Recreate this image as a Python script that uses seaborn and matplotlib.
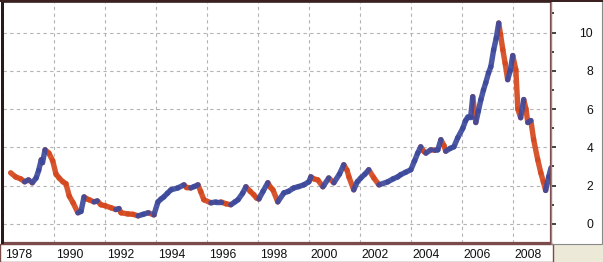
import numpy as np
import pandas as pd
import matplotlib
matplotlib.use("Agg")
import matplotlib.pyplot as plt
import matplotlib.transforms as mtransforms
from matplotlib.patches import Rectangle
import seaborn as sns

# ---- data ----
years = [1988.3, 1988.5, 1988.7, 1988.85, 1989.0, 1989.15, 1989.3, 1989.4, 1989.5, 1989.55,
         1989.65, 1989.8, 1989.95, 1990.08, 1990.2, 1990.35, 1990.47, 1990.6, 1990.75, 1990.94,
         1991.06, 1991.18, 1991.3, 1991.4, 1991.57, 1991.7, 1991.84, 1992.0, 1992.24, 1992.43,
         1992.55, 1992.63, 1992.9, 1993.1, 1993.3, 1993.5, 1993.7, 1993.92, 1994.08, 1994.2,
         1994.31, 1994.45, 1994.59, 1994.86, 1995.1, 1995.2, 1995.37, 1995.5, 1995.65, 1995.76,
         1995.88, 1996.16, 1996.35, 1996.55, 1996.75, 1996.94, 1997.1, 1997.22, 1997.4, 1997.53,
         1997.7, 1997.84, 1997.95, 1998.04, 1998.2, 1998.39, 1998.5, 1998.59, 1998.78, 1999.02,
         1999.2, 1999.41, 1999.6, 1999.8, 2000.0, 2000.08, 2000.2, 2000.35, 2000.55, 2000.78,
         2000.98, 2001.2, 2001.37, 2001.5, 2001.57, 2001.76, 2001.9, 2002.04, 2002.2, 2002.35,
         2002.55, 2002.75, 2003.1, 2003.3, 2003.49, 2003.6, 2003.8, 2004.0, 2004.15, 2004.27,
         2004.39, 2004.5, 2004.59, 2004.78, 2004.95, 2005.06, 2005.18, 2005.3, 2005.37, 2005.55,
         2005.69, 2005.84, 2006.04, 2006.15, 2006.24, 2006.35, 2006.43, 2006.55, 2006.65, 2006.75,
         2006.85, 2006.94, 2007.05, 2007.14, 2007.25, 2007.35, 2007.45, 2007.52, 2007.61, 2007.7,
         2007.8, 2007.9, 2008.0, 2008.12, 2008.2, 2008.31, 2008.43, 2008.52, 2008.59, 2008.71,
         2008.82, 2008.98, 2009.1, 2009.2, 2009.29, 2009.41, 2009.5]
values = [2.67, 2.45, 2.35, 2.2, 2.3, 2.15, 2.4, 2.8, 3.35, 3.2,
          3.87, 3.7, 3.3, 2.6, 2.4, 2.2, 2.1, 1.45, 1.1, 0.58,
          0.65, 1.41, 1.3, 1.25, 1.15, 1.2, 1.0, 0.95, 0.84, 0.75,
          0.8, 0.58, 0.52, 0.5, 0.42, 0.5, 0.58, 0.47, 1.15, 1.3,
          1.41, 1.6, 1.78, 1.88, 2.04, 1.9, 1.88, 1.95, 2.04, 1.68,
          1.26, 1.1, 1.15, 1.15, 1.05, 1.0, 1.15, 1.26, 1.6, 1.94,
          1.7, 1.52, 1.35, 1.3, 1.7, 2.15, 1.9, 1.78, 1.15, 1.62,
          1.7, 1.88, 1.95, 2.04, 2.2, 2.46, 2.35, 2.3, 1.94, 2.4,
          2.15, 2.6, 3.09, 2.8, 2.46, 1.78, 2.2, 2.4, 2.6, 2.83,
          2.4, 2.04, 2.2, 2.35, 2.46, 2.57, 2.7, 2.83, 3.3, 3.7,
          4.03, 3.8, 3.7, 3.87, 3.85, 3.87, 4.4, 4.1, 3.8, 3.95,
          4.03, 4.5, 5.0, 5.4, 5.6, 5.6, 6.65, 5.3, 5.9, 6.5,
          7.0, 7.38, 7.9, 8.22, 9.1, 9.7, 10.5, 9.9, 9.1, 8.4,
          7.54, 8.0, 8.8, 8.06, 6.0, 5.55, 6.5, 6.0, 5.3, 5.4,
          4.4, 3.35, 2.67, 2.2, 1.75, 2.46, 2.93]

x_tick_pos = [1988, 1990, 1992, 1994, 1996, 1998, 2000, 2002, 2004, 2006, 2008]
x_tick_labels = ["1978", "1990", "1992", "1994", "1996", "1998", "2000",
                 "2002", "2004", "2006", "2008"]
y_ticks = [0, 2, 4, 6, 8, 10]
y_tick_labels = ["0", "2", "4", "6", "8", "10"]

# ---- build segment table (colour by direction) ----
rows = []
for i in range(len(values) - 1):
    d = "up" if values[i + 1] >= values[i] else "down"
    rows.append({"year": years[i], "value": values[i], "seg": i, "dir": d})
    rows.append({"year": years[i + 1], "value": values[i + 1], "seg": i, "dir": d})
df = pd.DataFrame(rows)

sns.set_style("white")
plt.rcParams["font.family"] = ["Liberation Sans", "DejaVu Sans"]

W, H = 603, 262
fig = plt.figure(figsize=(W / 100, H / 100), dpi=100)
fig.patch.set_facecolor("white")
ax = fig.add_axes([3 / W, (H - 243) / H, (551 - 3) / W, (243 - 2) / H])

sns.lineplot(data=df, x="year", y="value", units="seg", estimator=None,
             hue="dir", palette={"up": "#3d4a9c", "down": "#d4481e"},
             linewidth=3.9, legend=False, sort=False, ax=ax, alpha=0.92)

ax.set_xlim(1988, 2009.5)
ax.set_ylim(-1.0, 11.6)
ax.set_xlabel("")
ax.set_ylabel("")

ax.set_xticks(x_tick_pos)
ax.set_xticklabels(x_tick_labels)
ax.yaxis.tick_right()
ax.set_yticks(y_ticks)
ax.set_yticklabels(y_tick_labels)
ax.set_yticks([1, 3, 5, 7, 9, 11], minor=True)
ax.tick_params(axis="y", which="major", direction="out", length=3.6, width=1.2,
               color="#222222", pad=0, labelsize=8.7, labelcolor="#111111",
               right=True, left=False)
ax.tick_params(axis="y", which="minor", direction="out", length=2.0, width=1.2,
               color="#222222", right=True, left=False)
ax.tick_params(axis="x", which="major", direction="out", length=3.6, width=1.0,
               color="#222222", pad=1, labelsize=8.7, labelcolor="#111111")

# x labels: left aligned, just right of their tick
x_off = mtransforms.ScaledTranslation(2 / 100, 0, fig.dpi_scale_trans)
for t in ax.xaxis.get_major_ticks():
    t.label1.set_horizontalalignment("left")
    t.label1.set_transform(t.label1.get_transform() + x_off)

# y labels on the right: right aligned near the figure edge
y_off = mtransforms.ScaledTranslation(37 / 100, 0, fig.dpi_scale_trans)
for t in ax.yaxis.get_major_ticks():
    t.label2.set_horizontalalignment("right")
    t.label2.set_transform(t.label2.get_transform() + y_off)

ax.grid(True, which="major", color="#b4b4b4", linestyle=(0, (3, 3)), linewidth=0.8)
ax.set_axisbelow(True)

for side, sp in ax.spines.items():
    sp.set_visible(True)
    sp.set_color("#7b4a4a")
    sp.set_linewidth(1.6)
ax.spines["left"].set_color("#3a2020")
ax.spines["top"].set_color("#3a2020")
ax.spines["left"].set_linewidth(1.2)
ax.spines["top"].set_linewidth(1.2)

# bottom-right grey corner and frames
fig.add_artist(Rectangle((553 / W, 0), (W - 553) / W, (H - 245) / H,
                         transform=fig.transFigure, facecolor="#ece9d8",
                         edgecolor="none", zorder=-1))
fig.add_artist(Rectangle((0, 0), 553 / W, (H - 244) / H,
                         transform=fig.transFigure, facecolor="none",
                         edgecolor="#7b4a4a", linewidth=1.0))
fig.add_artist(Rectangle((551 / W, (H - 244) / H), (W - 552) / W, 244 / H,
                         transform=fig.transFigure, facecolor="none",
                         edgecolor="#8a8a8a", linewidth=0.8))
fig.add_artist(Rectangle((0.5 / W, (H - 244) / H), 3 / W, 243 / H,
                         transform=fig.transFigure, facecolor="#2a1a1a",
                         edgecolor="none"))
fig.add_artist(Rectangle((0, (H - 2) / H), 1, 2 / H,
                         transform=fig.transFigure, facecolor="#3a2020",
                         edgecolor="none"))

fig.savefig("out.png", dpi=100)
